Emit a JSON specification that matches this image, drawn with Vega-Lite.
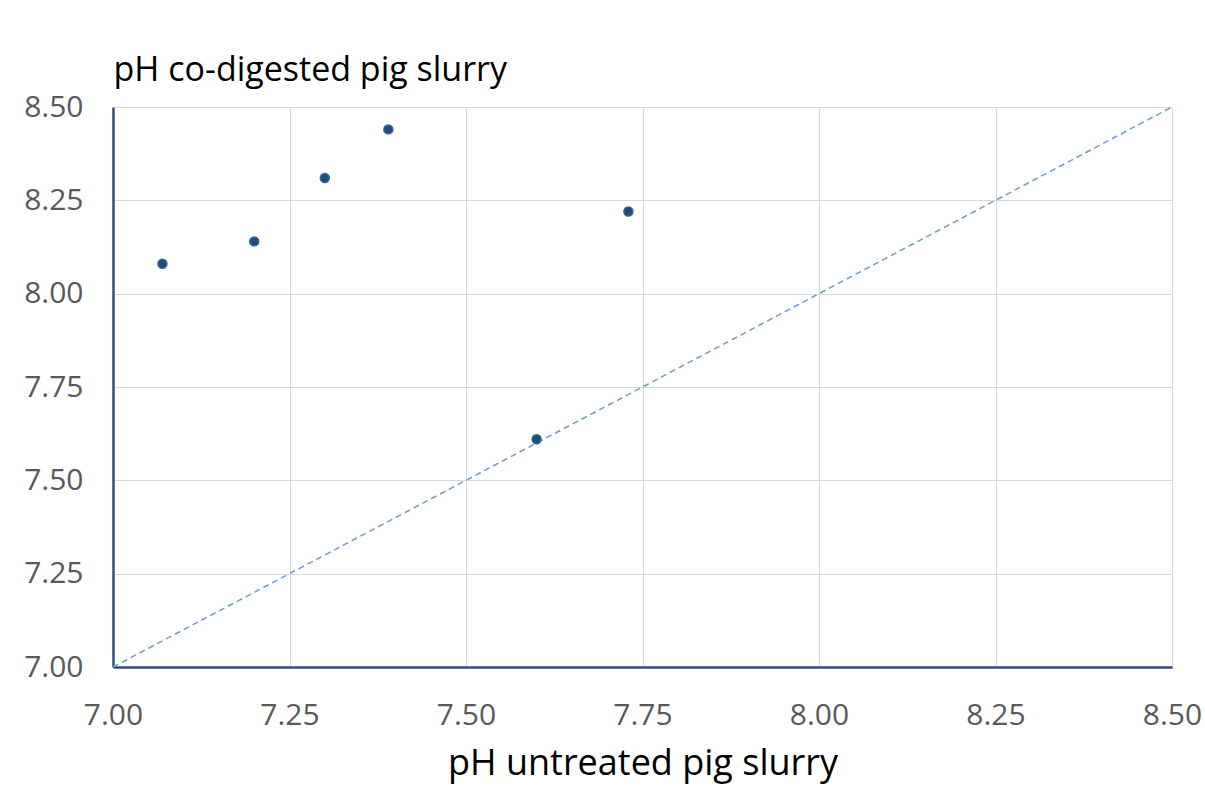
{
  "$schema": "https://vega.github.io/schema/vega-lite/v6.json",
  "width": 1059,
  "height": 560,
  "autosize": {"type": "none"},
  "padding": {"left": 113, "top": 107, "right": 33, "bottom": 126},
  "background": "white",
  "config": {
    "view": {"stroke": null},
    "font": "Open Sans"
  },
  "datasets": {
    "points": [
      {"untreated": 7.07, "codigested": 8.08},
      {"untreated": 7.20, "codigested": 8.14},
      {"untreated": 7.30, "codigested": 8.31},
      {"untreated": 7.39, "codigested": 8.44},
      {"untreated": 7.73, "codigested": 8.22},
      {"untreated": 7.60, "codigested": 7.61}
    ],
    "diag": [
      {"untreated": 7.0, "codigested": 7.0},
      {"untreated": 8.5, "codigested": 8.5}
    ]
  },
  "layer": [
    {
      "data": {"name": "diag"},
      "mark": {"type": "line", "color": "#6C9BD2", "strokeWidth": 1.5, "strokeDash": [6, 4]},
      "encoding": {
        "x": {
          "field": "untreated", "type": "quantitative",
          "scale": {"domain": [7, 8.5], "nice": false, "zero": false},
          "axis": {
            "title": "pH untreated pig slurry",
            "titleFontSize": 36, "titleFontWeight": "normal", "titleColor": "#000000",
            "titlePadding": 16,
            "values": [7, 7.25, 7.5, 7.75, 8, 8.25, 8.5],
            "format": ".2f",
            "labelFontSize": 30, "labelColor": "#595959", "labelPadding": 33,
            "labelFlush": false,
            "ticks": false,
            "domainColor": "#2E4F7A", "domainWidth": 2.5,
            "gridColor": "#D9D9D9", "gridWidth": 1
          }
        },
        "y": {
          "field": "codigested", "type": "quantitative",
          "scale": {"domain": [7, 8.5], "nice": false, "zero": false},
          "axis": {
            "title": "pH co-digested pig slurry",
            "titleAngle": 0, "titleAlign": "left", "titleBaseline": "alphabetic",
            "titleX": 0, "titleY": -27,
            "titleFontSize": 34, "titleFontWeight": "normal", "titleColor": "#000000",
            "values": [7, 7.25, 7.5, 7.75, 8, 8.25, 8.5],
            "format": ".2f",
            "labelFontSize": 30, "labelColor": "#595959", "labelPadding": 30,
            "labelFlush": false,
            "ticks": false,
            "domainColor": "#2E4F7A", "domainWidth": 2.5,
            "gridColor": "#D9D9D9", "gridWidth": 1
          }
        }
      }
    },
    {
      "data": {"name": "points"},
      "mark": {"type": "point", "filled": true, "color": "#1F4E79", "size": 80, "opacity": 1, "stroke": "#2F6098", "strokeWidth": 1.5},
      "encoding": {
        "x": {"field": "untreated", "type": "quantitative"},
        "y": {"field": "codigested", "type": "quantitative"}
      }
    }
  ]
}
